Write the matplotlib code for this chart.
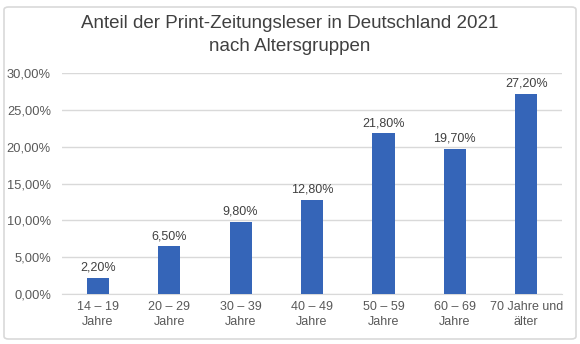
import matplotlib.pyplot as plt
from matplotlib.patches import FancyBboxPatch
from matplotlib.ticker import FuncFormatter

categories = ["14 – 19\nJahre", "20 – 29\nJahre", "30 – 39\nJahre", "40 – 49\nJahre",
              "50 – 59\nJahre", "60 – 69\nJahre", "70 Jahre und\nälter"]
values = [2.2, 6.5, 9.8, 12.8, 21.8, 19.7, 27.2]
yticks = [0, 5, 10, 15, 20, 25, 30]

plt.rcParams['font.family'] = ['Liberation Sans', 'DejaVu Sans']

fig = plt.figure(figsize=(5.8, 3.44), dpi=100)
fig.patch.set_facecolor('white')
border = FancyBboxPatch((4/580, 5/344), 572/580, 332/344, boxstyle="round,pad=0,rounding_size=0.008",
                        transform=fig.transFigure, facecolor='white', edgecolor='#d9d9d9',
                        linewidth=1.2, zorder=-10)
fig.patches.append(border)

ax = fig.add_axes([62/580, 1 - 294/344, (562-62)/580, (294-73)/344])
ax.set_zorder(1)
ax.set_facecolor('none')
x = range(len(values))
bars = ax.bar(x, values, width=0.31, color='#3565B8', zorder=3)
for xi, v in zip(x, values):
    ax.text(xi, v + 0.55, f"{v:.2f}%".replace('.', ','), ha='center', va='bottom',
            fontsize=9, color='#404040')
ax.set_ylim(0, 30)
ax.set_xlim(-0.5, len(values) - 0.5)
ax.set_yticks(yticks)
ax.yaxis.set_major_formatter(FuncFormatter(lambda v, p: f"{v:.2f}%".replace('.', ',')))
ax.grid(axis='y', color='#d9d9d9', linewidth=1, zorder=0)
ax.set_xticks(list(x))
ax.set_xticklabels(categories, fontsize=9, color='#595959', linespacing=1.3)
ax.tick_params(axis='y', labelsize=9.3, labelcolor='#595959', length=0, pad=8)
ax.tick_params(axis='x', length=0, pad=5)
for s in ['top', 'right', 'left']:
    ax.spines[s].set_visible(False)
ax.spines['bottom'].set_color('#d9d9d9')

fig.text(0.5, 1 - 35/344, "Anteil der Print-Zeitungsleser in Deutschland 2021\nnach Altersgruppen",
         ha='center', va='center', fontsize=13.5, color='#404040', linespacing=1.5)

fig.savefig('out.png', dpi=100)
